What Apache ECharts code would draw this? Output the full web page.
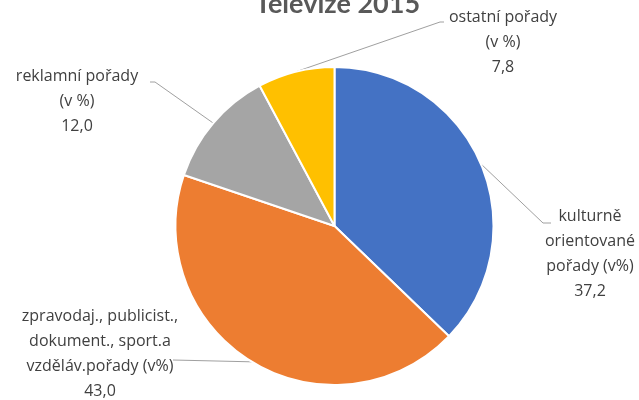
<!DOCTYPE html>
<html>
<head>
<meta charset="utf-8">
<script src="https://cdn.jsdelivr.net/npm/echarts@6/dist/echarts.min.js"></script>
<style>
  html, body { margin: 0; padding: 0; background: #fff; }
  #chart { width: 639px; height: 400px; }
</style>
</head>
<body>
<div id="chart"></div>
<script>
const TITLE = "Televize 2015";
const NAMES = [
    "kulturně\norientované\npořady (v%)",
    "zpravodaj., publicist.,\ndokument., sport.a\nvzděláv.pořady (v%)",
    "reklamní pořady\n(v %)",
    "ostatní pořady\n(v %)",
];
const VALUES = [37.2, 43.0, 12.0, 7.8];
const COLORS = ["#4472C4", "#ED7D31", "#A5A5A5", "#FFC000"];

// where each label block sits (center) and where its leader line ends
const LABEL_POS = [
    { x: 590, y: 254, end: [543, 223], tail: [551, 223] },
    { x: 100, y: 354, end: [173, 360], tail: [173, 360] },
    { x: 77, y: 101, end: [155, 82], tail: [150, 82] },
    { x: 503, y: 42, end: [440, 22], tail: [444, 22] },
];

const fmt = (v) => v.toFixed(1).replace(".", ",");

const chart = echarts.init(document.getElementById("chart"), null, { renderer: "canvas" });

chart.setOption({
    animation: false,
    backgroundColor: "#fff",
    title: {
        text: TITLE,
        left: 250,
        top: -14,
        textStyle: { fontFamily: "Lato", fontWeight: "bold", fontSize: 27, color: "#595959" },
    },
    series: [
        {
            type: "pie",
            center: [334.5, 226],
            radius: 159,
            startAngle: 90,
            clockwise: true,
            itemStyle: { borderColor: "#fff", borderWidth: 2 },
            emphasis: { disabled: true },
            label: {
                show: true,
                formatter: (p) => `${p.name}\n${fmt(p.value)}`,
                fontFamily: "Open Sans",
                fontSize: 16,
                lineHeight: 25,
                color: "#404040",
                align: "center",
            },
            labelLine: { show: true, lineStyle: { color: "#A0A0A0", width: 1 } },
            labelLayout: (params) => {
                const pos = LABEL_POS[params.dataIndex];
                const start = params.labelLinePoints ? params.labelLinePoints[0] : pos.end;
                return {
                    x: pos.x,
                    y: pos.y,
                    align: "center",
                    verticalAlign: "middle",
                    labelLinePoints: [start, pos.end, pos.tail],
                };
            },
            data: VALUES.map((v, i) => ({ name: NAMES[i], value: v, itemStyle: { color: COLORS[i] } })),
        },
    ],
});
</script>
</body>
</html>
